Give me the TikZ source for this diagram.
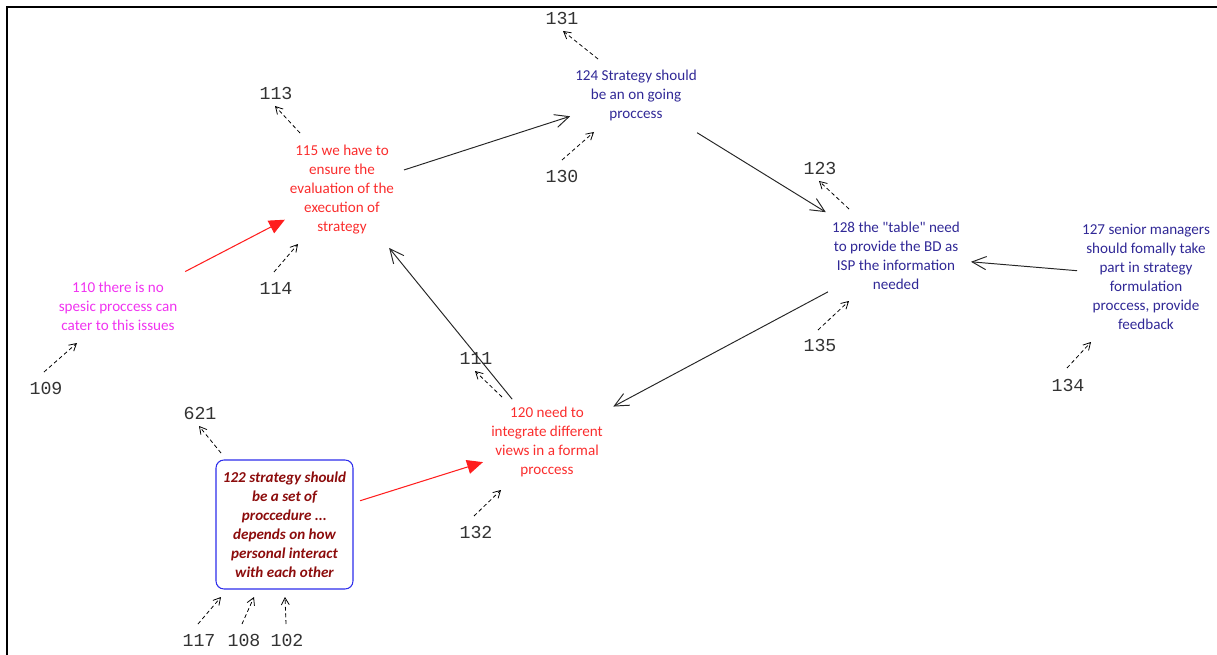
\documentclass[tikz,border=0pt]{standalone}
\usepackage{fontspec}
\setmainfont{Carlito}
\newfontfamily\monofam{Liberation Mono}
\usepackage{xcolor}
\usetikzlibrary{arrows.meta, calc}
\definecolor{ideared}{RGB}{250,45,45}
\definecolor{ideamag}{RGB}{240,50,240}
\definecolor{ideanavy}{RGB}{48,40,150}
\definecolor{ideamaroon}{RGB}{140,12,12}
\definecolor{boxblue}{RGB}{45,45,235}
\definecolor{linkred}{RGB}{255,30,30}

\begin{document}
\begin{tikzpicture}[x=0.02cm, y=-0.02cm,
  idea/.style={align=center, inner sep=1pt, font=\fontsize{8.6}{10.8}\selectfont},
  numlbl/.style={inner sep=0pt, text=black!80, font=\monofam\fontsize{10.4}{12}\selectfont},
  link/.style={-{Straight Barb[length=8pt, width=7.5pt]}, line width=0.55pt, black!85},
  redlink/.style={-{Triangle[length=9pt, width=8pt]}, line width=0.6pt, linkred},
  refarrow/.style={-{Straight Barb[length=4pt, width=4.5pt]}, line width=0.45pt, dash pattern=on 2.2pt off 1.6pt}]
  \useasboundingbox (0,0) rectangle (1217,655);
  \draw[line width=1.2pt] (7,655) -- (7,7) -- (1217,7);

  \node[idea, text=ideanavy] (n124) at (636,95) {124 Strategy should\\be an on going\\proccess};
  \node[idea, text=ideared] (n115) at (342,190) {115 we have to\\ensure the\\evaluation of the\\execution of\\strategy};
  \node[idea, text=ideamag] (n110) at (118,306.5) {110 there is no\\spesic proccess can\\cater to this issues};
  \node[idea, text=ideanavy] (n128) at (896,255.5) {128 the \textquotedbl table\textquotedbl{} need\\to provide the BD as\\ISP the information\\needed};
  \node[idea, text=ideanavy] (n127) at (1146,276.5) {127 senior managers\\should fomally take\\part in strategy\\formulation\\proccess, provide\\feedback};
  \node[idea, text=ideared] (n120) at (547,442) {120 need to\\integrate different\\views in a formal\\proccess};
  \node[idea, draw=boxblue, line width=0.6pt, rounded corners=4.5pt, minimum width=2.74cm, minimum height=2.58cm,
    text=ideamaroon, font=\fontsize{8.6}{10.8}\selectfont\bfseries\itshape] (n122) at (284.5,524.5)
    {122 strategy should\\be a set of\\proccedure ...\\depends on how\\personal interact\\with each other};

  \node[numlbl] (n131) at (562,18) {131};
  \node[numlbl] (n130) at (562,176) {130};
  \node[numlbl] (n113) at (276,93) {113};
  \node[numlbl] (n114) at (276,288) {114};
  \node[numlbl] (n109) at (46,388) {109};
  \node[numlbl] (n621) at (200,413) {621};
  \node[numlbl] (n117) at (199,640) {117};
  \node[numlbl] (n108) at (244,640) {108};
  \node[numlbl] (n102) at (287,640) {102};
  \node[numlbl] (n111) at (476,358) {111};
  \node[numlbl] (n132) at (476,532) {132};
  \node[numlbl] (n123) at (820,168) {123};
  \node[numlbl] (n135) at (820,345) {135};
  \node[numlbl] (n134) at (1068,385) {134};

  \draw[refarrow] ($(n131)+(36,41)$) -- ($(n131)+(1,13)$);
  \draw[refarrow] ($(n130)+(0,-16)$) -- ($(n130)+(32,-44)$);
  \draw[refarrow] ($(n113)+(24,40)$) -- ($(n113)+(-1,13)$);
  \draw[refarrow] ($(n114)+(-2,-16)$) -- ($(n114)+(22,-44)$);
  \draw[refarrow] ($(n109)+(-2,-16)$) -- ($(n109)+(31,-45)$);
  \draw[refarrow] ($(n621)+(21,40)$) -- ($(n621)+(-1,13)$);
  \draw[refarrow] ($(n117)+(-1,-16)$) -- ($(n117)+(22,-43)$);
  \draw[refarrow] ($(n108)+(-2,-16)$) -- ($(n108)+(10,-43)$);
  \draw[refarrow] ($(n102)+(-1,-16)$) -- ($(n102)+(-2,-43)$);
  \draw[refarrow] ($(n111)+(26,39)$) -- ($(n111)+(-1,13)$);
  \draw[refarrow] ($(n132)+(-2,-16)$) -- ($(n132)+(25,-42)$);
  \draw[refarrow] ($(n123)+(29,41)$) -- ($(n123)+(-1,13)$);
  \draw[refarrow] ($(n135)+(-2,-15)$) -- ($(n135)+(29,-44)$);
  \draw[refarrow] ($(n134)+(-1,-17)$) -- ($(n134)+(23,-43)$);

  \draw[link] ($(n115)!.211!(n124)$) -- ($(n115)!.776!(n124)$);
  \draw[link] ($(n124)!.235!(n128)$) -- ($(n124)!.73!(n128)$);
  \draw[link] ($(n127)!.276!(n128)$) -- ($(n127)!.70!(n128)$);
  \draw[link] ($(n128)!.195!(n120)$) -- ($(n128)!.81!(n120)$);
  \draw[link] ($(n120)!.17!(n115)$) -- ($(n120)!.77!(n115)$);
  \draw[redlink] ($(n110)!.30!(n115)$) -- ($(n110)!.745!(n115)$);
  \draw[redlink] ($(n122)!.288!(n120)$) -- ($(n122)!.756!(n120)$);
\end{tikzpicture}
\end{document}
